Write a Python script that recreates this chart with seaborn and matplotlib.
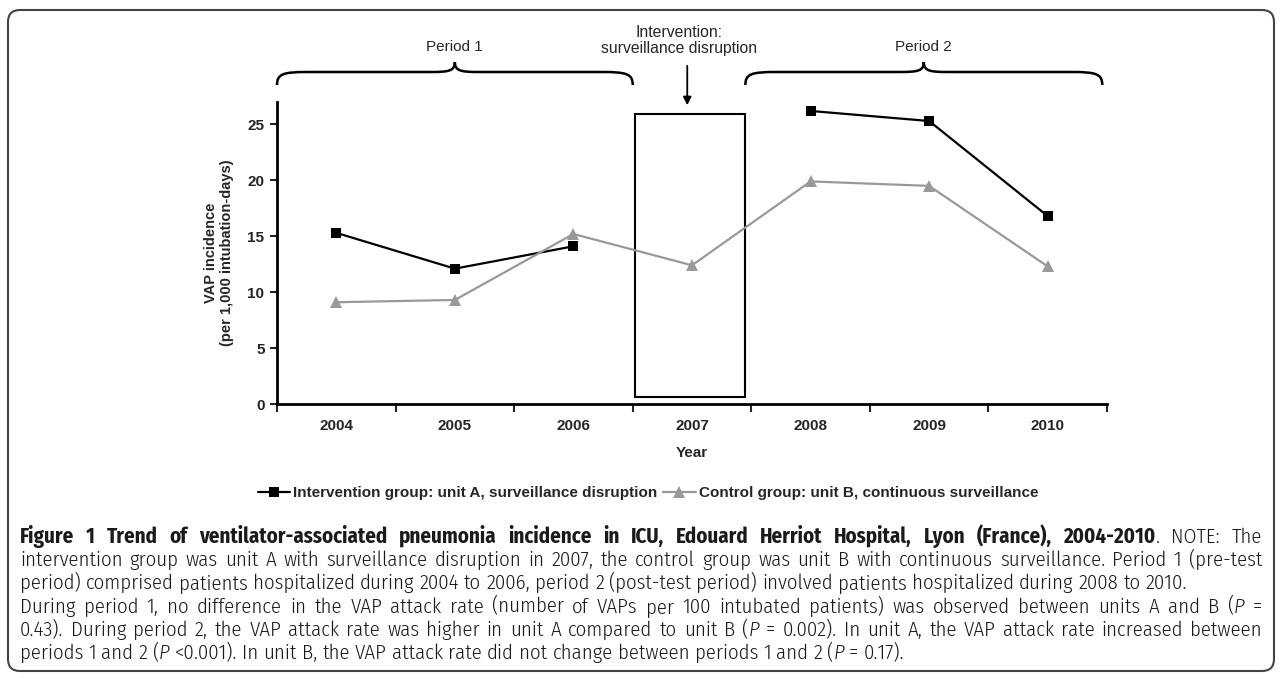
import numpy as np
import pandas as pd
import matplotlib.pyplot as plt
import seaborn as sns
from matplotlib.lines import Line2D
from matplotlib.patches import Rectangle, FancyBboxPatch, PathPatch
from matplotlib.path import Path
from matplotlib.transforms import IdentityTransform

# 1. Datos
years = ['2004', '2005', '2006', '2007', '2008', '2009', '2010']
unit_a = [15.3, 12.1, 14.1, np.nan, 26.2, 25.3, 16.8]
unit_b = [9.1, 9.3, 15.2, 12.4, 19.9, 19.5, 12.3]
label_a = 'Intervention group: unit A, surveillance disruption'
label_b = 'Control group: unit B, continuous surveillance'
y_ticks = [0, 5, 10, 15, 20, 25]

W, H = 1282, 679

# tabla larga: la unidad A se corta en 2007
rows = []
for i, v in enumerate(unit_a):
    if not np.isnan(v):
        rows.append({'pos': i, 'value': v, 'series': label_a, 'seg': 'A1' if i < 3 else 'A2'})
for i, v in enumerate(unit_b):
    rows.append({'pos': i, 'value': v, 'series': label_b, 'seg': 'B'})
df = pd.DataFrame(rows)

sns.set_style('ticks')
plt.rcParams['font.family'] = ['Liberation Sans', 'DejaVu Sans']
cap_font = 'Fira Sans Condensed'

fig = plt.figure(figsize=(W / 100, H / 100), dpi=100)
ax = fig.add_axes([277 / W, 1 - 404 / H, 830 / W, 302 / H])

colors = {label_a: 'black', label_b: '#999999'}
sns.lineplot(data=df, x='pos', y='value', hue='series', style='series', units='seg',
             estimator=None, palette=colors, markers={label_a: 's', label_b: '^'},
             dashes=False, markersize=7.5, markeredgewidth=0, linewidth=1.6,
             legend=False, ax=ax, zorder=3)
for ln in ax.lines:
    if ln.get_marker() == '^':
        ln.set_markersize(9)

# caja de la intervención (2007)
ax.add_patch(Rectangle((2.52, 0.6), 0.93, 25.3, fill=False, edgecolor='black', lw=1.5, zorder=2))

ax.set_xlim(-0.5, 6.5)
ax.set_ylim(0, 27)
ax.set_yticks(y_ticks)
ax.set_xticks(np.arange(-0.5, 7, 1))
ax.set_xticklabels([])
ax.set_xticks(range(len(years)), minor=True)
ax.set_xticklabels(years, minor=True, fontweight='bold', fontsize=11)
ax.tick_params(axis='x', which='major', direction='out', length=6, width=1.5)
ax.tick_params(axis='x', which='minor', length=0, pad=11)
ax.tick_params(axis='y', direction='out', length=5, width=1.5, labelsize=11, pad=4)
for t in ax.get_yticklabels():
    t.set_fontweight('bold')
for s in ['top', 'right']:
    ax.spines[s].set_visible(False)
for s in ['left', 'bottom']:
    ax.spines[s].set_linewidth(2)
    ax.spines[s].set_color('black')

ax.set_xlabel('Year', fontweight='bold', fontsize=11, labelpad=9)
ax.set_ylabel('VAP incidence\n(per 1,000 intubation-days)', fontweight='bold', fontsize=10.5)
ax.yaxis.set_label_coords(-0.052, 0.5)


# 2. Llaves de los periodos (en píxeles desde arriba)
def px(x):
    return ax.transData.transform((x, 0))[0]


def brace(x0, x1, y_end=85, y_flat=72, y_tip=62, c=30, m=24):
    xm = (x0 + x1) / 2
    pts = [(x0, y_end),
           (x0, y_flat + 2), (x0 + 6, y_flat), (x0 + c, y_flat),
           (xm - m, y_flat),
           (xm - 6, y_flat), (xm, y_flat - 1), (xm, y_tip),
           (xm, y_flat - 1), (xm + 6, y_flat), (xm + m, y_flat),
           (x1 - c, y_flat),
           (x1 - 6, y_flat), (x1, y_flat + 2), (x1, y_end)]
    codes = [Path.MOVETO] + [Path.CURVE4] * 3 + [Path.LINETO] + [Path.CURVE4] * 6 + \
            [Path.LINETO] + [Path.CURVE4] * 3
    verts = [(x, H - y) for x, y in pts]
    fig.add_artist(PathPatch(Path(verts, codes), fill=False, lw=1.8, edgecolor='black',
                             transform=IdentityTransform()))
    return xm


m1 = brace(px(-0.5), px(2.5))
m2 = brace(px(3.45), px(6.46))
for xm, name in [(m1, 'Period 1'), (m2, 'Period 2')]:
    ax.annotate(name, xy=(xm, H - 47), xycoords='figure pixels', ha='center', va='center',
                fontsize=11)
ax.annotate('Intervention:\nsurveillance disruption', xy=(px(2.89), H - 40.5),
            xycoords='figure pixels', ha='center', va='center', fontsize=11.3, linespacing=1.12)
ax.annotate('', xy=(px(2.96), H - 108), xytext=(px(2.96), H - 63),
            xycoords='figure pixels', textcoords='figure pixels',
            arrowprops=dict(arrowstyle='-|>', color='black', lw=1.3, mutation_scale=12))

# 3. Leyenda
handles = [Line2D([], [], color='black', marker='s', markersize=7, lw=1.6, mew=0),
           Line2D([], [], color='#999999', marker='^', markersize=8.5, lw=1.6, mew=0)]
fig.legend(handles, [label_a, label_b], loc='center', bbox_to_anchor=(648 / W, 1 - 493 / H),
           ncol=2, frameon=False, prop={'weight': 'bold', 'size': 11},
           handlelength=2.1, handletextpad=0.2, columnspacing=0.4)

# 4. Pie de figura
caption = [
    [('Figure 1 Trend of ventilator-associated pneumonia incidence in ICU, Edouard Herriot '
      'Hospital, Lyon (France), 2004-2010', 'bold', 'normal'), ('. NOTE: The', 300, 'normal')],
    [('intervention group was unit A with surveillance disruption in 2007, the control group was '
      'unit B with continuous surveillance. Period 1 (pre-test', 300, 'normal')],
    [('period) comprised patients hospitalized during 2004 to 2006, period 2 (post-test period) '
      'involved patients hospitalized during 2008 to 2010.', 300, 'normal')],
    [('During period 1, no difference in the VAP attack rate (number of VAPs per 100 intubated '
      'patients) was observed between units A and B (', 300, 'normal'),
     ('P', 300, 'italic'), (' =', 300, 'normal')],
    [('0.43). During period 2, the VAP attack rate was higher in unit A compared to unit B (',
      300, 'normal'), ('P', 300, 'italic'),
     (' = 0.002). In unit A, the VAP attack rate increased between', 300, 'normal')],
    [('periods 1 and 2 (', 300, 'normal'), ('P', 300, 'italic'),
     (' <0.001). In unit B, the VAP attack rate did not change between periods 1 and 2 (',
      300, 'normal'), ('P', 300, 'italic'), (' = 0.17).', 300, 'normal')],
]
justified = [True, True, False, True, True, False]
renderer = fig.canvas.get_renderer()
left, right = 20, 1262


def split_words(parts):
    # una palabra puede mezclar estilos, p. ej. "(P"
    words = [[]]
    for text, weight, style in parts:
        for j, chunk in enumerate(text.split(' ')):
            if j > 0:
                words.append([])
            if chunk:
                words[-1].append((chunk, weight, style))
    return [wd for wd in words if wd]


def measure(s, size, weight=300, style='normal'):
    t = fig.text(0, 0, s, fontsize=size, family=cap_font, fontweight=weight, fontstyle=style)
    w = t.get_window_extent(renderer).width
    t.remove()
    return w


# tamaño de letra: la línea 2 ocupa casi todo el ancho
base = 13
line2 = ''.join(p[0] for p in caption[1])
size = min(15, base * 0.975 * (right - left) / measure(line2, base))
sw = measure('a a', size) - measure('aa', size)

for k, parts in enumerate(caption):
    words = split_words(parts)
    y = H - (543 + 23.2 * k)
    objs, widths = [], []
    for wd in words:
        row, w = [], 0
        for text, weight, style in wd:
            t = fig.text(0, y, text, fontsize=size, family=cap_font, fontweight=weight,
                         fontstyle=style, va='baseline', ha='left', color='#1a1a1a',
                         transform=IdentityTransform())
            tw = t.get_window_extent(renderer).width
            row.append((t, tw))
            w += tw
        objs.append(row)
        widths.append(w)
    gap = sw
    if justified[k]:
        gap = max(sw * 0.7, (right - left - sum(widths)) / (len(words) - 1))
    x = left
    for row in objs:
        for t, tw in row:
            t.set_x(x)
            x += tw
        x += gap

# marco redondeado
fig.add_artist(FancyBboxPatch((8, 8), 1266, 661, boxstyle='round,pad=0,rounding_size=12',
                              fill=False, edgecolor='#444444', lw=1.5,
                              transform=IdentityTransform()))

fig.savefig('out.png', dpi=100)
